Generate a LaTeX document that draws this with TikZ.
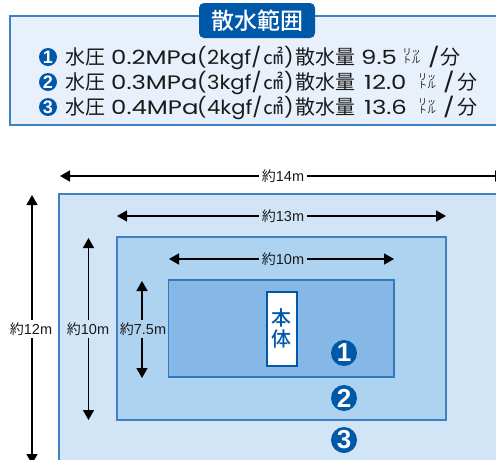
\documentclass[tikz,border=0pt]{standalone}
\usepackage{fontspec}
\setmainfont{Noto Sans CJK JP}
\newfontfamily\med{Noto Sans CJK JP Medium}
\newfontfamily\lat[FakeStretch=1.25]{Poppins}
\newfontfamily\latn[FakeStretch=1.08]{Poppins}
\newfontfamily\latb{Liberation Sans}
\usetikzlibrary{arrows.meta}
\definecolor{hdr}{HTML}{0058A9}
\definecolor{panel}{HTML}{E8F1FB}
\definecolor{panelb}{HTML}{3F82C4}
\definecolor{zthree}{HTML}{D2E5F7}
\definecolor{ztwo}{HTML}{AED3F0}
\definecolor{zone}{HTML}{85B8E6}
\definecolor{inkb}{HTML}{1A1A1A}
\tikzset{
  zonebox/.style={draw=#1,line width=1.2pt},
  numdot/.style={circle,fill=hdr,text=white,inner sep=0pt,minimum size=#1,font=\latb\bfseries\fontsize{#1*0.72}{#1}\selectfont},
  rowtxt/.style={anchor=base west,inner sep=0pt,text=inkb,font=\fontsize{20}{20}\selectfont},
  rowlat/.style={anchor=base west,inner sep=0pt,text=inkb,font=\lat\fontsize{19.5}{20}\selectfont},
  rownar/.style={anchor=base west,inner sep=0pt,text=inkb,font=\latn\fontsize{19.5}{20}\selectfont},
  litre/.style={anchor=center,inner sep=0pt,text=inkb,align=center,font=\fontsize{9}{8.5}\selectfont},
  dimlab/.style={inner sep=0pt,outer sep=3pt,text=inkb,font=\fontsize{14}{14}\selectfont},
  dimline/.style={line width=1.4pt,black,-{Triangle[length=10pt,width=11pt]}},
}
\newcommand{\dimtxt}[2]{#1{\latb\fontsize{14.5}{14}\selectfont #2}}
\newcommand{\rowline}[9]{%
  \node[numdot=18pt] (n#1) at (48,#2) {#1};
  \node[rowtxt] (a#1) at (65,#2+7) {水圧};
  \node[rowlat] (b#1) at (111,#2+7) {0.#3MPa};
  \node[rownar] (p#1) at (197,#2+7) {(};
  \node[rownar] (c#1) at (207,#2+7) {#4kgf/};
  \node[rowtxt] (d#1) at (263,#2+7) {㎠};
  \node[rownar] (e#1) at (284,#2+7) {)};
  \node[rowtxt] (f#1) at (295,#2+7) {散水量};
  \node[rowlat] (g#1) at (#6,#2+7) {#5};
  \node[litre] (h#1) at (#7,#2-1) {リッ\\トル};
  \node[rowlat] (i#1) at (#8,#2+7) {/};
  \node[rowtxt] (j#1) at (#9,#2+7) {分};
}
\begin{document}
\begin{tikzpicture}[x=1pt,y=-1pt]
\clip (0,0) rectangle (496,459);
% header panel
\filldraw[fill=panel,draw=panelb,line width=1.6pt] (10,16) rectangle (500,125);
\node[fill=hdr,rounded corners=5pt,inner sep=0pt,minimum width=116pt,minimum height=35pt,text=white,font=\med\fontsize{23}{23}\selectfont] (title) at (257,20.5) {散水範囲};
\rowline{1}{57}{2}{2}{9.5}{361}{411.5}{428}{440}
\rowline{2}{82}{3}{3}{12.0}{364}{427}{443}{457}
\rowline{3}{107}{4}{4}{13.6}{364}{427}{443}{457}
% zones
\fill[zthree] (59,194) rectangle (500,465);
\draw[zonebox=panelb] (59,465) -- (59,194) -- (500,194);
\filldraw[fill=ztwo,zonebox=panelb] (117,237) rectangle (446,420);
\filldraw[fill=zone,zonebox=hdr!80!white] (168.5,280) rectangle (394,377);
\node[draw=hdr,line width=2pt,fill=white,text=hdr,minimum width=30pt,minimum height=74pt,inner sep=0pt,align=center,font=\med\fontsize{20}{20.5}\selectfont] (body) at (281.5,328.5) {本\\体};
\node[numdot=26pt] (z1) at (344,353) {1};
\node[numdot=26pt] (z2) at (344,398) {2};
\node[numdot=26pt] (z3) at (344,440) {3};
% dimension labels
\node[dimlab] (w14) at (283,176) {\dimtxt{約}{14m}};
\node[dimlab] (w13) at (283,216) {\dimtxt{約}{13m}};
\node[dimlab] (w10) at (283,259) {\dimtxt{約}{10m}};
\node[dimlab] (h12) at (31,329) {\dimtxt{約}{12m}};
\node[dimlab] (h10) at (88,329) {\dimtxt{約}{10m}};
\node[dimlab] (h75) at (143,329) {\dimtxt{約}{7.5m}};
\coordinate (w14l) at (60,176); \coordinate (w14r) at (505,176);
\coordinate (w13l) at (117,216); \coordinate (w13r) at (446,216);
\coordinate (w10l) at (169,259); \coordinate (w10r) at (394,259);
\coordinate (h12t) at (32,195); \coordinate (h12b) at (32,464);
\coordinate (h10t) at (88.5,238); \coordinate (h10b) at (88.5,420);
\coordinate (h75t) at (142,281); \coordinate (h75b) at (142,378);
\foreach \n/\a/\b in {w14/w14l/w14r,w13/w13l/w13r,w10/w10l/w10r}{
  \draw[dimline] (\n.west) -- (\a);
  \draw[dimline] (\n.east) -- (\b);
}
\foreach \n/\a/\b in {h12/h12t/h12b,h10/h10t/h10b,h75/h75t/h75b}{
  \draw[dimline] (\a |- \n.north) -- (\a);
  \draw[dimline] (\b |- \n.south) -- (\b);
}
\end{tikzpicture}
\end{document}
